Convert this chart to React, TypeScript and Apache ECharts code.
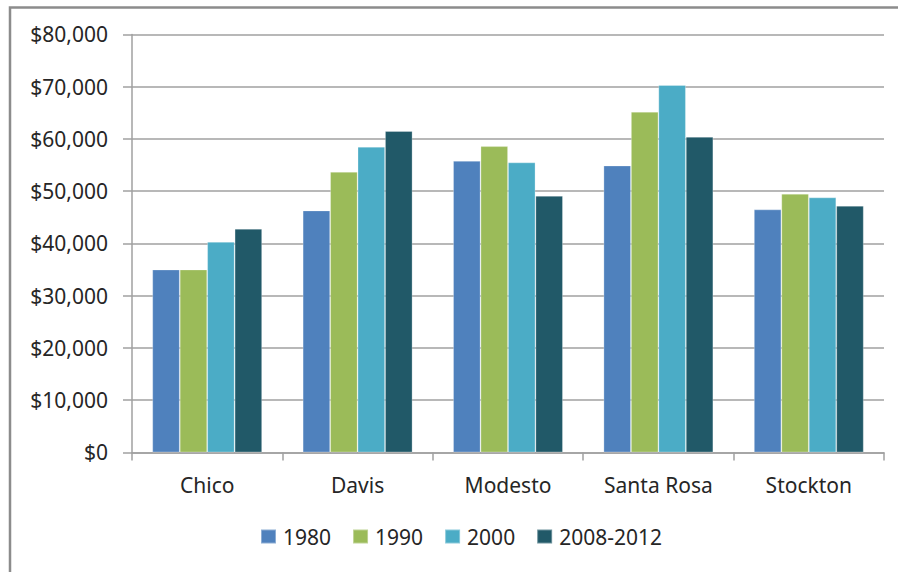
import React, { useEffect, useRef } from "react";
import * as echarts from "echarts";

const categories = ["Chico", "Davis", "Modesto", "Santa Rosa", "Stockton"];
const seriesNames = ["1980", "1990", "2000", "2008-2012"];
const values1980 = [35000, 46300, 55800, 54900, 46500];
const values1990 = [35000, 53700, 58600, 65200, 49500];
const values2000 = [40300, 58500, 55500, 70300, 48800];
const values2008 = [42800, 61500, 49100, 60400, 47200];
const colors = ["#4F81BD", "#9BBB59", "#4BACC6", "#215968"];
const yTicks = { min: 0, max: 80000, interval: 10000 };

const FONT = "'Noto Sans', 'Open Sans', sans-serif";

export default function App() {
  const ref = useRef<HTMLDivElement>(null);
  useEffect(() => {
    document.body.style.margin = "0";
    if (!ref.current) return;
    const chart = echarts.init(ref.current, null, { renderer: "svg" });
    const allValues = [values1980, values1990, values2000, values2008];
    chart.setOption({
      animation: false,
      backgroundColor: "#ffffff",
      textStyle: { fontFamily: FONT },
      grid: { left: 132, right: 14, top: 34.4, bottom: 119.6, containLabel: false },
      legend: {
        data: seriesNames,
        left: 255,
        top: 521,
        icon: "rect",
        itemWidth: 15,
        itemHeight: 14,
        itemGap: 21,
        textStyle: { fontSize: 21, color: "#262626", fontFamily: FONT, padding: [0, 0, 0, 2] },
      },
      xAxis: {
        type: "category",
        data: categories,
        axisLine: { show: true, lineStyle: { color: "#a0a0a0", width: 1.5 } },
        axisTick: { show: true, alignWithLabel: false, length: 8, lineStyle: { color: "#a0a0a0", width: 1.5 } },
        axisLabel: { fontSize: 21, color: "#262626", margin: 22, fontFamily: FONT },
      },
      yAxis: {
        type: "value",
        min: yTicks.min,
        max: yTicks.max,
        interval: yTicks.interval,
        axisLine: { show: true, lineStyle: { color: "#a0a0a0", width: 1.5 } },
        axisTick: { show: true, length: 9, lineStyle: { color: "#a0a0a0", width: 1.5 } },
        splitLine: { show: true, lineStyle: { color: "#a0a0a0", width: 1.5 } },
        axisLabel: {
          fontSize: 21,
          color: "#262626",
          margin: 24,
          fontFamily: FONT,
          formatter: (v: number) => "$" + v.toLocaleString("en-US"),
        },
      },
      series: seriesNames.map((name, i) => ({
        name,
        type: "bar",
        data: allValues[i],
        barGap: "0%",
        barCategoryGap: "27%",
        itemStyle: { color: colors[i], borderColor: "rgba(255,255,255,0.35)", borderWidth: 0.8 },
      })),
      graphic: [
        {
          type: "polyline",
          shape: { points: [[10, 572], [10, 7.5], [898, 7.5]] },
          style: { stroke: "#8c8c8c", lineWidth: 2.5, fill: null },
        },
      ],
    });
    return () => chart.dispose();
  }, []);
  return <div ref={ref} style={{ width: 898, height: 572 }} />;
}
